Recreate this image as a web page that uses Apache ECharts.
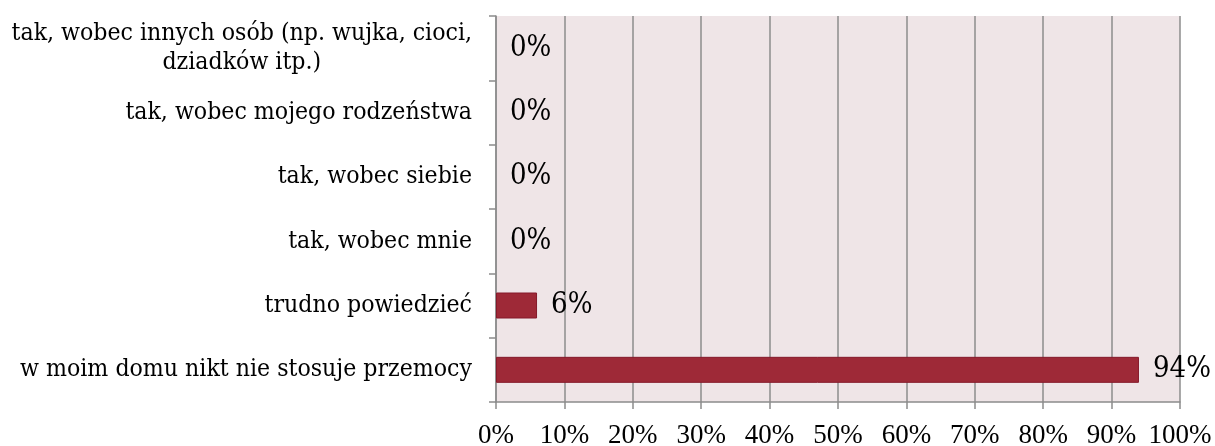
<!DOCTYPE html>
<html>
<head>
<meta charset="utf-8">
<script src="https://cdn.jsdelivr.net/npm/echarts@6/dist/echarts.min.js"></script>
<style>
  html, body { margin: 0; padding: 0; background: #fff; }
  #chart { width: 1215px; height: 446px; }
</style>
</head>
<body>
<div id="chart"></div>
<script>
var categories = [
  "tak, wobec innych osób (np. wujka, cioci,\ndziadków itp.)",
  "tak, wobec mojego rodzeństwa",
  "tak, wobec siebie",
  "tak, wobec mnie",
  "trudno powiedzieć",
  "w moim domu nikt nie stosuje przemocy"
];
var values = [0, 0, 0, 0, 6, 94];
var xTicks = [0, 10, 20, 30, 40, 50, 60, 70, 80, 90, 100];

var chartDom = document.getElementById("chart");
var myChart = echarts.init(chartDom);
var option;

var serif = "'DejaVu Serif Condensed', 'DejaVu Serif'";
var axisSerif = "'Liberation Serif'";

// zero bars should not show a border sliver
var barData = values.map(function (v) {
  return v === 0 ? { value: v, itemStyle: { borderWidth: 0 } } : v;
});

option = {
  animation: false,
  grid: {
    left: 496,
    right: 35,
    top: 16,
    bottom: 44,
    outerBoundsMode: "none",
    show: true,
    backgroundColor: "#efe5e7",
    borderWidth: 0,
  },
  xAxis: {
    type: "value",
    min: xTicks[0],
    max: xTicks[xTicks.length - 1],
    interval: 10,
    axisLine: { show: true, lineStyle: { color: "#8c8c8c", width: 1.5 } },
    axisTick: { show: true, length: 7, lineStyle: { color: "#8c8c8c", width: 1.5 } },
    splitLine: { show: true, lineStyle: { color: "#8c8c8c", width: 1.5 } },
    axisLabel: {
      formatter: "{value}%",
      fontFamily: axisSerif,
      fontSize: 27,
      color: "#000",
      margin: 20,
    },
  },
  yAxis: {
    type: "category",
    data: categories,
    inverse: true,
    axisLine: { show: true, lineStyle: { color: "#8c8c8c", width: 1.5 } },
    axisTick: { show: true, length: 7, lineStyle: { color: "#8c8c8c", width: 1.5 } },
    axisLabel: {
      fontFamily: serif,
      fontSize: 24.6,
      color: "#000",
      margin: 24,
      lineHeight: 29,
      formatter: function (v) {
        if (v.indexOf("\n") >= 0) {
          return v
            .split("\n")
            .map(function (s) { return "{c|" + s + "}"; })
            .join("\n");
        }
        return v;
      },
      rich: {
        c: { align: "center", fontFamily: serif, fontSize: 24.6, color: "#000", lineHeight: 29 },
      },
    },
  },
  series: [
    {
      type: "bar",
      data: barData,
      barWidth: 26,
      itemStyle: {
        color: "#9e2937",
        borderColor: "#85192a",
        borderWidth: 1,
      },
      label: {
        show: true,
        position: "right",
        distance: 14,
        formatter: "{c}%",
        fontFamily: serif,
        fontSize: 29,
        color: "#000",
      },
    },
  ],
};

option && myChart.setOption(option);
</script>
</body>
</html>
